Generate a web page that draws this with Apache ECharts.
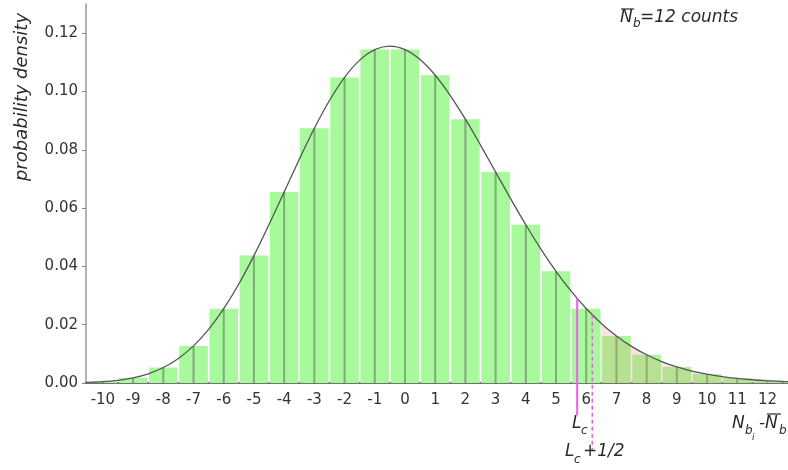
<!DOCTYPE html>
<html>
<head>
<meta charset="utf-8">
<style>
  html, body { margin: 0; padding: 0; background: #fff; }
  #chart { width: 788px; height: 470px; }
</style>
<script src="https://cdn.jsdelivr.net/npm/echarts@6/dist/echarts.min.js"></script>
</head>
<body>
<div id="chart"></div>
<script>
// Background counts relative to the mean (N_bi - N̄b), mean N̄b = 12
const offsets = [-11, -10, -9, -8, -7, -6, -5, -4, -3, -2, -1, 0, 1, 2, 3, 4, 5, 6, 7, 8, 9, 10, 11, 12, 13];
const probabilities = [0.00007, 0.00044, 0.00177, 0.0053, 0.0127, 0.0255, 0.0437, 0.0655, 0.0874, 0.1048, 0.1144, 0.1144,
  0.1056, 0.0905, 0.0724, 0.0543, 0.0383, 0.0255, 0.0161, 0.0097, 0.0055, 0.0030, 0.0016, 0.0008, 0.0004];

// Smooth density curve drawn over the histogram
const curveX = [-11, -10.5, -10, -9.5, -9, -8.5, -8, -7.5, -7, -6.5, -6, -5.5, -5, -4.5, -4, -3.5, -3, -2.5, -2, -1.5,
  -1, -0.5, 0, 0.5, 1, 1.5, 2, 2.5, 3, 3.5, 4, 4.5, 5, 5.5, 6, 6.5, 7, 7.5, 8, 8.5, 9, 9.5, 10, 10.5, 11, 11.5, 12, 12.5, 13];
const curveY = [0.00007, 0.00019, 0.00044, 0.00092, 0.00177, 0.00316, 0.00531, 0.00843, 0.01274, 0.01839, 0.02548,
  0.03396, 0.04368, 0.05434, 0.06552, 0.07671, 0.08736, 0.09690, 0.10484, 0.11075, 0.11437, 0.11557, 0.11437, 0.11094,
  0.10557, 0.09861, 0.09049, 0.08161, 0.07239, 0.06318, 0.05429, 0.04595, 0.03832, 0.03151, 0.02555, 0.02044, 0.01614,
  0.01258, 0.00968, 0.00736, 0.00553, 0.00411, 0.00302, 0.00219, 0.00157, 0.00112, 0.00079, 0.00055, 0.00038];

// Shaded tail starts here
const tailStart = 6.5;

// Critical level L_c and L_c + 1/2, with the curve height at each
const limitX = [5.70, 6.20];
const limitTop = [0.0290, 0.0234];

// Axis ticks
const xTicks = [-10, -9, -8, -7, -6, -5, -4, -3, -2, -1, 0, 1, 2, 3, 4, 5, 6, 7, 8, 9, 10, 11, 12];
const yTicks = [0, 0.02, 0.04, 0.06, 0.08, 0.10, 0.12];

const curveData = curveX.map((x, i) => [x, curveY[i]]);
const tailData = curveData.filter(d => d[0] >= tailStart);
const barData = offsets.map((x, i) => [x, probabilities[i]]);
const limitData = limitX.map((x, i) => [x, limitTop[i], i]);

const BAR = '#a8f99c';
const FONT = '"DejaVu Sans", sans-serif';
const ink = '#2b2b2b';

function txt(text, x, y, size, extra) {
  return Object.assign({
    type: 'text', x: x, y: y,
    style: { text: text, font: 'italic ' + size + 'px ' + FONT, fill: ink, textVerticalAlign: 'middle' },
    z: 20
  }, extra || {});
}
function bar(x1, x2, y) {
  return { type: 'line', shape: { x1: x1, y1: y, x2: x2, y2: y }, style: { stroke: ink, lineWidth: 1.2 }, z: 20 };
}

const chart = echarts.init(document.getElementById('chart'), null, { renderer: 'canvas' });

chart.setOption({
  animation: false,
  backgroundColor: '#ffffff',
  grid: { left: 86, right: 0, top: 4, bottom: 87 },
  xAxis: {
    type: 'value', min: -10.56, max: 12.68,
    axisLine: { show: true, onZero: false, lineStyle: { color: '#444', width: 1.5 } },
    axisTick: { show: false },
    splitLine: { show: false },
    axisLabel: {
      customValues: xTicks, margin: 10,
      fontFamily: FONT, fontSize: 15, color: '#333',
      formatter: v => String(v)
    }
  },
  yAxis: {
    type: 'value', min: 0, max: 0.13,
    axisLine: { show: true, onZero: false, lineStyle: { color: '#9a9a9a', width: 1.5 } },
    axisTick: { show: true, customValues: yTicks, length: 4, lineStyle: { color: '#888' } },
    splitLine: { show: false },
    axisLabel: {
      customValues: yTicks, margin: 8,
      fontFamily: FONT, fontSize: 15, color: '#333',
      formatter: v => v.toFixed(2)
    }
  },
  series: [
    {
      type: 'custom', name: 'histogram', z: 2, clip: true,
      data: barData,
      renderItem: function (params, api) {
        const x = api.value(0), y = api.value(1);
        const a = api.coord([x - 0.5, 0]);
        const b = api.coord([x + 0.5, y]);
        const mid = api.coord([x, 0])[0];
        const gap = 0.8;
        return {
          type: 'group',
          children: [
            { type: 'rect', shape: { x: a[0] + gap, y: b[1], width: b[0] - a[0] - 2 * gap, height: a[1] - b[1] },
              style: { fill: BAR } },
            { type: 'line', shape: { x1: mid, y1: a[1], x2: mid, y2: b[1] },
              style: { stroke: 'rgba(70,80,70,0.45)', lineWidth: 2 } }
          ]
        };
      }
    },
    {
      type: 'line', name: 'tail', z: 3, data: tailData, smooth: 0.3,
      symbol: 'none', lineStyle: { width: 0 },
      areaStyle: { color: 'rgba(225,150,115,0.36)', origin: 'start' }
    },
    {
      type: 'line', name: 'density', z: 4, data: curveData, smooth: 0.3,
      symbol: 'none', lineStyle: { color: '#555', width: 1.3 }
    },
    {
      type: 'custom', name: 'limits', z: 5, clip: false,
      data: limitData,
      renderItem: function (params, api) {
        const top = api.coord([api.value(0), api.value(1)]);
        const base = api.coord([api.value(0), 0]);
        const dashed = api.value(2) === 1;
        return {
          type: 'line',
          shape: { x1: top[0], y1: top[1], x2: top[0], y2: base[1] + (dashed ? 68 : 32) },
          style: dashed
            ? { stroke: '#f25af2', lineWidth: 1.5, lineDash: [4, 3] }
            : { stroke: '#f25af2', lineWidth: 2 }
        };
      }
    }
  ],
  graphic: [
    // y-axis title
    { type: 'text', x: 22, y: 97, rotation: Math.PI / 2,
      style: { text: 'probability density', font: 'italic 18px ' + FONT, fill: ink,
               textAlign: 'center', textVerticalAlign: 'middle' }, z: 20 },
    // N̄b = 12 counts
    txt('N', 620, 17.5, 17), bar(621, 634, 9),
    txt('b', 633, 24, 12),
    txt('=12 counts', 640, 17.5, 17),
    // L_c
    txt('L', 572, 424, 17), txt('c', 581, 431, 12),
    // L_c + 1/2
    txt('L', 565, 452, 17), txt('c', 574, 460, 12), txt('+1/2', 583, 452, 17),
    // N_bi - N̄b
    txt('N', 732, 424, 17), txt('b', 745, 431, 12), txt('i', 752, 438, 9),
    txt('-', 759, 424, 17), txt('N', 765, 424, 17), bar(767, 781, 414), txt('b', 779, 431, 12)
  ]
});
</script>
</body>
</html>
